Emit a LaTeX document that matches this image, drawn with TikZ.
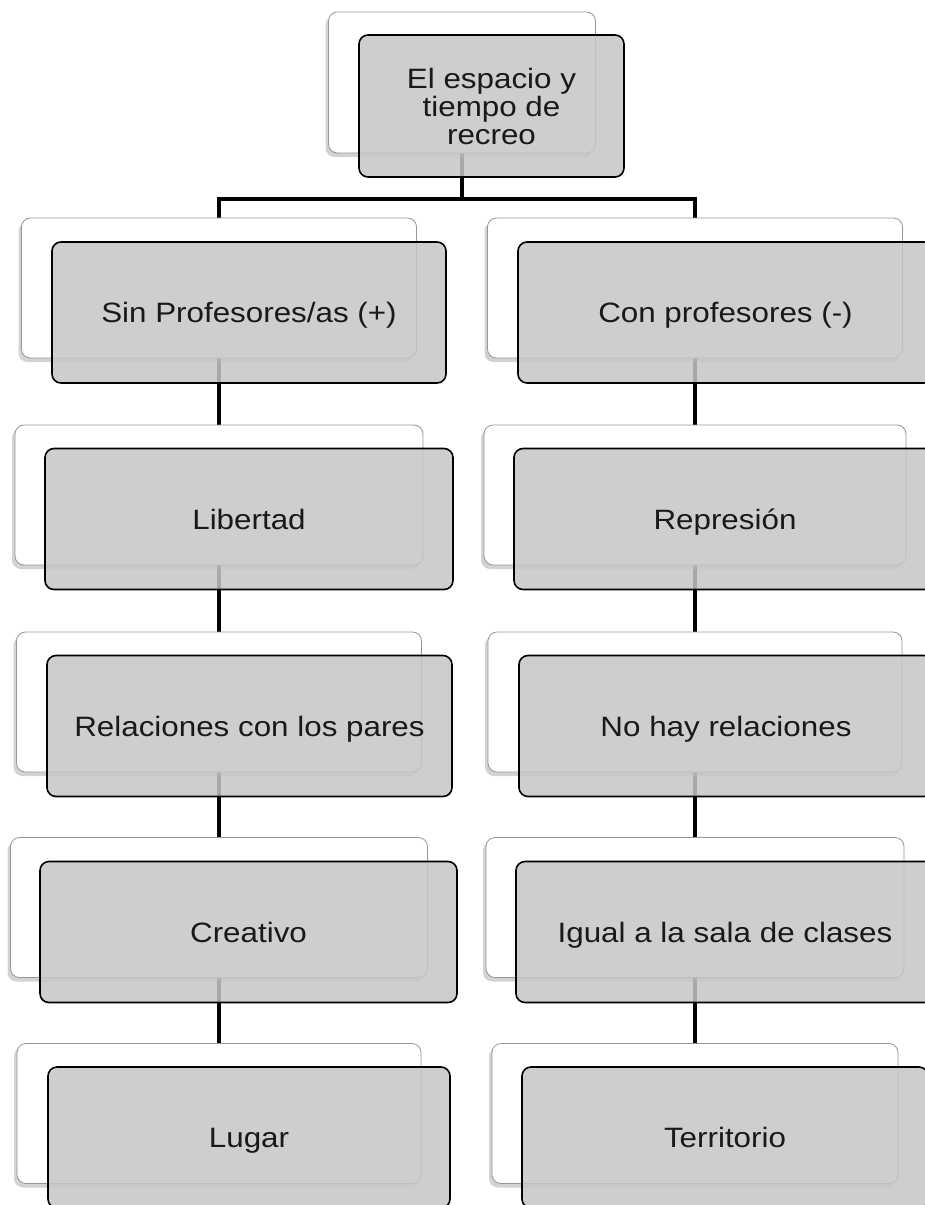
\documentclass[tikz,border=0pt]{standalone}
\usepackage{fontspec}
\setmainfont[FakeStretch=1.12]{Liberation Sans}
\usetikzlibrary{shadows,backgrounds}

\tikzset{
  backbox/.style={draw={rgb,255:red,150;green,150;blue,150}, fill=white,
    rounded corners=9pt, line width=0.8pt, inner sep=0pt, minimum height=140pt,
    drop shadow={shadow xshift=-3pt, shadow yshift=-4pt, opacity=0.35}},
  frontbox/.style={draw=black, fill={rgb,255:red,198;green,198;blue,198},
    fill opacity=0.85, text opacity=1, text=black!90, rounded corners=9pt,
    line width=1.6pt, inner sep=0pt, minimum height=141pt, align=center,
    text height=20pt, text depth=0pt, font=\fontsize{28}{28}\selectfont},
  link/.style={line width=3.5pt, draw=black}
}

\begin{document}
\begin{tikzpicture}[x=1pt,y=1pt,yscale=-1,xscale=1]
\useasboundingbox (0,0) rectangle (925,1205);

%Shape: Rounded Rect [top]
\node[backbox, minimum width=267pt, minimum height=141pt] (top) at (462,82.5) {};
\node[frontbox, text height=, text depth=, minimum width=265pt, minimum height=142pt] (topf) at (491.5,106) {El espacio y\\tiempo de\\recreo};

%Shape: Rounded Rect [left column]
\node[backbox, minimum width=395pt] (sin) at (219,288) {};
\node[frontbox, minimum width=394pt] (sinf) at (249,312.5) {Sin Profesores/as (+)};
\node[backbox, minimum width=408pt] (lib) at (219,495) {};
\node[frontbox, minimum width=408pt] (libf) at (249,519) {Libertad};
\node[backbox, minimum width=405pt] (rel) at (219,702) {};
\node[frontbox, minimum width=405pt] (relf) at (249.5,726) {Relaciones con los pares};
\node[backbox, minimum width=417pt] (cre) at (219,907.5) {};
\node[frontbox, minimum width=417pt] (cref) at (248.5,932) {Creativo};
\node[backbox, minimum width=404pt] (lug) at (219,1113.5) {};
\node[frontbox, minimum width=402pt] (lugf) at (249,1137.5) {Lugar};

%Shape: Rounded Rect [right column]
\node[backbox, minimum width=415pt] (con) at (695,288) {};
\node[frontbox, minimum width=415pt] (conf) at (725.5,312.5) {Con profesores (-)};
\node[backbox, minimum width=422pt] (rep) at (695,495) {};
\node[frontbox, minimum width=422pt] (repf) at (725,519) {Represión};
\node[backbox, minimum width=414pt] (nohay) at (695,702) {};
\node[frontbox, minimum width=414pt] (nohayf) at (726,726) {No hay relaciones};
\node[backbox, minimum width=418pt] (igual) at (695,907.5) {};
\node[frontbox, minimum width=418pt] (igualf) at (725,932) {Igual a la sala de clases};
\node[backbox, minimum width=406pt] (terr) at (695,1113.5) {};
\node[frontbox, minimum width=406pt] (terrf) at (725,1137.5) {Territorio};

%Connectors
\coordinate (split) at (462,199);
\begin{scope}[on background layer]
\draw[link] (top) -- (split);
\draw[link] (split) -| (sin);
\draw[link] (split) -| (con);
\draw[link] (sin) -- (lib);
\draw[link] (lib) -- (rel);
\draw[link] (rel) -- (cre);
\draw[link] (cre) -- (lug);
\draw[link] (con) -- (rep);
\draw[link] (rep) -- (nohay);
\draw[link] (nohay) -- (igual);
\draw[link] (igual) -- (terr);
\end{scope}

\end{tikzpicture}
\end{document}
